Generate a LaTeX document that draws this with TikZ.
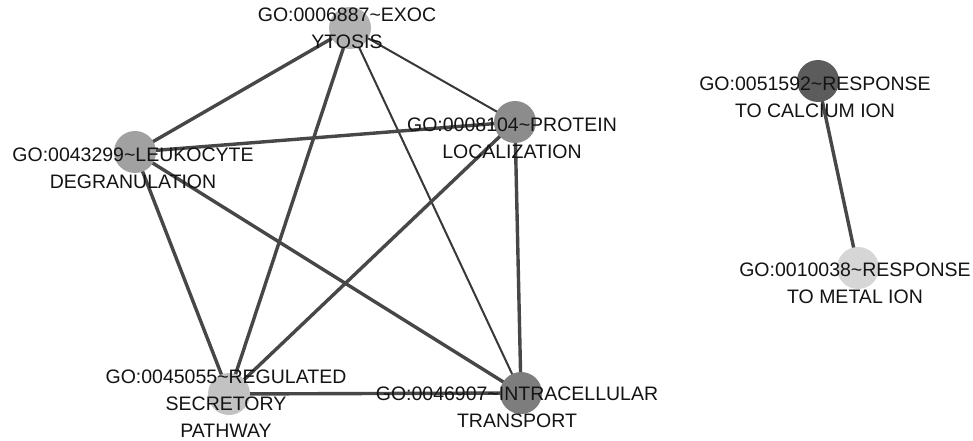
\documentclass[tikz,border=0pt]{standalone}
\usepackage{fontspec}
\setmainfont{Liberation Sans}
\begin{document}
\begin{tikzpicture}[x=1pt,y=-1pt,
  term/.style={circle,minimum size=42pt,inner sep=0pt},
  lbl/.style={align=center,inner sep=0pt,text=black!92,font=\fontsize{19.5}{27}\selectfont},
  heavy/.style={draw=black!72,line width=3.4pt},
  light/.style={draw=black!78,line width=2pt}]
\useasboundingbox (0,0) rectangle (973,441);
\fill[white] (0,0) rectangle (973,441);
% term positions
\node[term] (exo) at (350,28) {};
\node[term] (leu) at (135,152) {};
\node[term] (pro) at (515,122) {};
\node[term] (reg) at (229,394) {};
\node[term] (itr) at (521,393) {};
\node[term] (cal) at (818,81) {};
\node[term] (met) at (858,268) {};
% similarity links
\path[heavy] (exo.center) -- (leu.center);
\path[light] (exo.center) -- (pro.center);
\path[heavy] (exo.center) -- (reg.center);
\path[light] (exo.center) -- (itr.center);
\path[heavy] (leu.center) -- (pro.center);
\path[heavy] (leu.center) -- (reg.center);
\path[heavy] (leu.center) -- (itr.center);
\path[heavy] (pro.center) -- (reg.center);
\path[heavy] (pro.center) -- (itr.center);
\path[heavy] (reg.center) -- (itr.center);
\path[heavy] (cal.center) -- (met.center);
% shaded discs with a lighter rim, over the links
\foreach \n/\f/\d in {exo/30/22,leu/37/28,pro/45/35,reg/24/17,itr/51/40,cal/64/50,met/16/10}
  \fill[black!\d] (\n) circle (21pt) (\n) ++(0,0) [fill=black!\f] circle (18.5pt);
% labels
\node[lbl] (texo) at (347,28) {GO:0006887\textasciitilde EXOC\\YTOSIS};
\node[lbl] (tleu) at (133,168) {GO:0043299\textasciitilde LEUKOCYTE\\DEGRANULATION};
\node[lbl] (tpro) at (512,138) {GO:0008104\textasciitilde PROTEIN\\LOCALIZATION};
\node[lbl] (treg) at (226,404) {GO:0045055\textasciitilde REGULATED\\SECRETORY\\PATHWAY};
\node[lbl] (titr) at (517,407) {GO:0046907\textasciitilde INTRACELLULAR\\TRANSPORT};
\node[lbl] (tcal) at (815,97) {GO:0051592\textasciitilde RESPONSE\\TO CALCIUM ION};
\node[lbl] (tmet) at (855,283) {GO:0010038\textasciitilde RESPONSE\\TO METAL ION};
\end{tikzpicture}
\end{document}
